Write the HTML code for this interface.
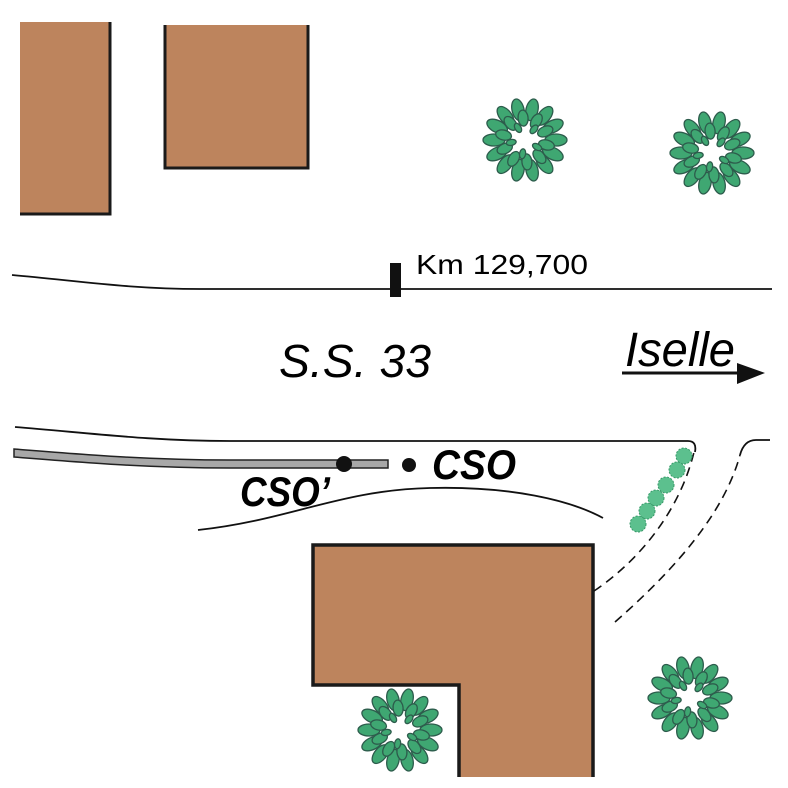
<!DOCTYPE html>
<html><head><meta charset="utf-8"><style>html,body{margin:0;padding:0;background:#fff}svg{display:block}</style></head>
<body>
<svg width="788" height="788" viewBox="0 0 788 788" xmlns="http://www.w3.org/2000/svg">
<defs>
<g id="tree" fill="#3fa772" stroke="#2d5c4c" stroke-width="1.3">
<ellipse cx="31" cy="0" rx="11" ry="6" transform="rotate(0)"/>
<ellipse cx="31" cy="0" rx="11" ry="6" transform="rotate(26)"/>
<ellipse cx="31" cy="0" rx="11" ry="6" transform="rotate(51)"/>
<ellipse cx="31" cy="0" rx="11" ry="6" transform="rotate(77)"/>
<ellipse cx="31" cy="0" rx="11" ry="6" transform="rotate(103)"/>
<ellipse cx="31" cy="0" rx="11" ry="6" transform="rotate(129)"/>
<ellipse cx="31" cy="0" rx="11" ry="6" transform="rotate(154)"/>
<ellipse cx="31" cy="0" rx="11" ry="6" transform="rotate(180)"/>
<ellipse cx="31" cy="0" rx="11" ry="6" transform="rotate(206)"/>
<ellipse cx="31" cy="0" rx="11" ry="6" transform="rotate(231)"/>
<ellipse cx="31" cy="0" rx="11" ry="6" transform="rotate(257)"/>
<ellipse cx="31" cy="0" rx="11" ry="6" transform="rotate(283)"/>
<ellipse cx="31" cy="0" rx="11" ry="6" transform="rotate(309)"/>
<ellipse cx="31" cy="0" rx="11" ry="6" transform="rotate(334)"/>
<ellipse cx="22" cy="0" rx="8" ry="5" transform="rotate(13)"/>
<ellipse cx="22" cy="0" rx="8" ry="5" transform="rotate(49)"/>
<ellipse cx="22" cy="0" rx="8" ry="5" transform="rotate(85)"/>
<ellipse cx="22" cy="0" rx="8" ry="5" transform="rotate(121)"/>
<ellipse cx="22" cy="0" rx="8" ry="5" transform="rotate(157)"/>
<ellipse cx="22" cy="0" rx="8" ry="5" transform="rotate(193)"/>
<ellipse cx="22" cy="0" rx="8" ry="5" transform="rotate(229)"/>
<ellipse cx="22" cy="0" rx="8" ry="5" transform="rotate(265)"/>
<ellipse cx="22" cy="0" rx="8" ry="5" transform="rotate(301)"/>
<ellipse cx="22" cy="0" rx="8" ry="5" transform="rotate(337)"/>
<ellipse cx="14" cy="0" rx="5" ry="3" transform="rotate(30)"/>
<ellipse cx="14" cy="0" rx="5" ry="3" transform="rotate(100)"/>
<ellipse cx="14" cy="0" rx="5" ry="3" transform="rotate(170)"/>
<ellipse cx="14" cy="0" rx="5" ry="3" transform="rotate(240)"/>
<ellipse cx="14" cy="0" rx="5" ry="3" transform="rotate(310)"/>
</g>
</defs>
<rect x="20" y="22" width="90" height="192" fill="#bd845d"/>
<path d="M110,22 V214 H20" fill="none" stroke="#1a1a1a" stroke-width="3"/>
<rect x="165" y="25" width="143" height="143" fill="#bd845d"/>
<path d="M165,25 V168 H308 V25" fill="none" stroke="#1a1a1a" stroke-width="3"/>
<path d="M313,545 H593 V777 H459 V685 H313 Z" fill="#bd845d"/>
<path d="M459,777 V685 H313 V545 H593 V777" fill="none" stroke="#1a1a1a" stroke-width="3.5"/>
<use href="#tree" x="525" y="140"/>
<use href="#tree" x="712" y="153"/>
<use href="#tree" x="400" y="730"/>
<use href="#tree" x="690" y="698"/>
<path d="M12,275 C80,281 130,289 200,289 H772" fill="none" stroke="#111" stroke-width="1.8"/>
<rect x="390" y="263" width="11" height="34" fill="#111"/>
<text x="416" y="274" font-family="Liberation Sans, sans-serif" font-size="28" textLength="172" lengthAdjust="spacingAndGlyphs">Km 129,700</text>
<text x="279" y="377" font-family="Liberation Sans, sans-serif" font-size="46" font-style="italic" textLength="152" lengthAdjust="spacingAndGlyphs">S.S. 33</text>
<text x="625" y="366" font-family="Liberation Sans, sans-serif" font-size="48" font-style="italic" textLength="110" lengthAdjust="spacingAndGlyphs">Iselle</text>
<line x1="622" y1="373" x2="740" y2="373" stroke="#111" stroke-width="3"/>
<polygon points="737,363 765,373 737,384" fill="#111"/>
<path d="M15,427 C90,433 150,441 230,441 H688 Q697,441 695,452" fill="none" stroke="#111" stroke-width="1.8"/>
<path d="M740,455 Q744,440 756,440 H770" fill="none" stroke="#111" stroke-width="1.8"/>
<path d="M14,449 C90,455 150,460 230,460 H388 V468 H230 C150,468 90,463 14,457 Z" fill="#a8a8a8" stroke="#222" stroke-width="1.5"/>
<circle cx="344" cy="464" r="8" fill="#111"/>
<circle cx="409" cy="465" r="7" fill="#111"/>
<text x="432" y="479" font-family="Liberation Sans, sans-serif" font-size="42" font-weight="bold" font-style="italic" textLength="84" lengthAdjust="spacingAndGlyphs">CSO</text>
<text x="240" y="506" font-family="Liberation Sans, sans-serif" font-size="42" font-weight="bold" font-style="italic" textLength="90" lengthAdjust="spacingAndGlyphs">CSO’</text>
<path d="M198,530 C290,520 340,490 430,488 C510,486 570,500 603,518" fill="none" stroke="#111" stroke-width="1.8"/>
<path d="M594,591 C640,560 680,510 694,452" fill="none" stroke="#111" stroke-width="1.6" stroke-dasharray="9,6"/>
<path d="M615,622 C680,565 725,510 740,455" fill="none" stroke="#111" stroke-width="1.6" stroke-dasharray="9,6"/>
<g fill="#5cc08e" stroke="#3a9a6a" stroke-width="1" stroke-dasharray="2,1.5">
<circle cx="684" cy="456" r="8"/>
<circle cx="677" cy="470" r="8"/>
<circle cx="666" cy="485" r="8"/>
<circle cx="656" cy="498" r="8"/>
<circle cx="647" cy="511" r="8"/>
<circle cx="638" cy="524" r="8"/>
</g>
</svg>
</body></html>
